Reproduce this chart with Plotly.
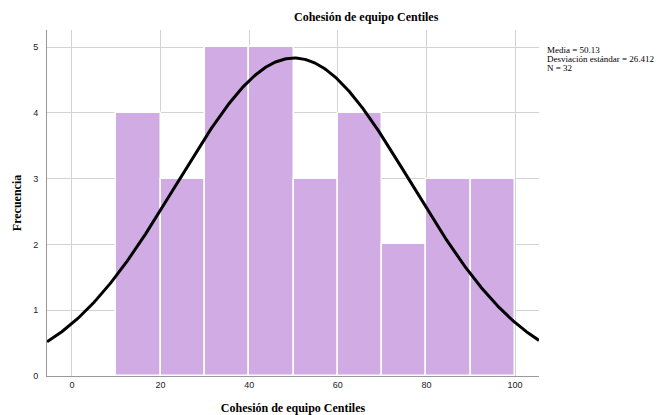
import numpy as np
import plotly.graph_objects as go

bin_starts = [10, 20, 30, 40, 50, 60, 70, 80, 90]
counts = [4, 3, 5, 5, 3, 4, 2, 3, 3]
bin_width = 10
mean_val = 50.13
sd_val = 26.412
n_val = 32
x_ticks = [0, 20, 40, 60, 80, 100]
y_ticks = [0, 1, 2, 3, 4, 5]
stat_lines = [f"Media = {mean_val:.2f}", f"Desviación estándar = {sd_val:.3f}", f"N = {n_val}"]

x_range = [-5.64, 105.4]
y_range = [0, 5.26]

centers = [s + bin_width / 2 for s in bin_starts]

xs = np.linspace(x_range[0], x_range[1], 400)
ys = n_val * bin_width / (sd_val * np.sqrt(2 * np.pi)) * np.exp(-0.5 * ((xs - mean_val) / sd_val) ** 2)

fig = go.Figure()
fig.add_trace(go.Bar(
    x=centers, y=counts, width=[bin_width] * len(counts),
    marker=dict(color="#D1ABE3", line=dict(color="white", width=1.5)),
    showlegend=False, hoverinfo="skip"
))
fig.add_trace(go.Scatter(
    x=xs, y=ys, mode="lines", line=dict(color="black", width=3),
    showlegend=False, hoverinfo="skip"
))

W, H = 659, 415
ml, mr, mt, mb = 47, 120, 30, 39
pw, ph = W - ml - mr, H - mt - mb

serif = "Liberation Serif, Times New Roman, serif"

annotations = [
    dict(text="<b>Cohesión de equipo Centiles</b>", xref="paper", yref="paper",
         x=(366 - ml) / pw, y=1 + (mt - 17) / ph,
         xanchor="center", yanchor="middle", showarrow=False,
         font=dict(family=serif, size=12, color="black")),
]
for i, line in enumerate(stat_lines):
    annotations.append(dict(
        text=line, xref="paper", yref="paper",
        x=(545 - ml) / pw, y=1 - (50 + 9 * i - mt) / ph,
        xanchor="left", yanchor="middle", showarrow=False,
        font=dict(family=serif, size=9, color="black")))

fig.update_layout(
    width=W, height=H,
    margin=dict(l=ml, r=mr, t=mt, b=mb, autoexpand=False),
    paper_bgcolor="white", plot_bgcolor="white",
    bargap=0,
    font=dict(family="Liberation Sans, Arial, sans-serif", size=9, color="#222"),
    xaxis=dict(
        range=x_range, tickvals=x_ticks, ticks="", showgrid=True, automargin=False,
        gridcolor="#d3d3d3", gridwidth=1, zeroline=False,
        showline=True, linecolor="#999", linewidth=1,
        tickfont=dict(size=9, color="#222"),
        title=dict(text="<b>Cohesión de equipo Centiles</b>",
                   font=dict(family=serif, size=12, color="black"),
                   standoff=14),
    ),
    yaxis=dict(
        range=y_range, tickvals=y_ticks, ticks="", showgrid=True, automargin=False,
        gridcolor="#d3d3d3", gridwidth=1, zeroline=False,
        showline=True, linecolor="#999", linewidth=1,
        tickfont=dict(size=9, color="#222"),
        ticklabelstandoff=6,
        title=dict(text="<b>Frecuencia</b>",
                   font=dict(family=serif, size=12, color="black"),
                   standoff=8),
    ),
    annotations=annotations,
)

fig.write_html("out.html")
